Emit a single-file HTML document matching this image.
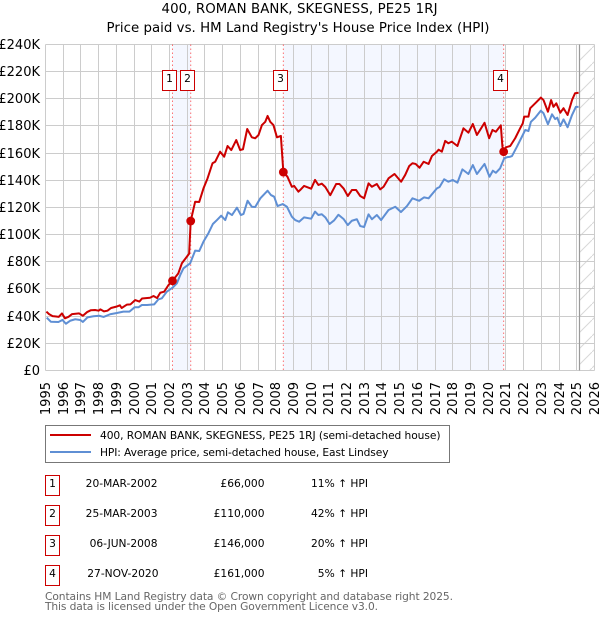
<!DOCTYPE html>
<html>
<head>
<meta charset="utf-8">
<title>400, Roman Bank price chart</title>
<style>
html,body{margin:0;padding:0;background:#fff;width:600px;height:620px;overflow:hidden}
svg{display:block}
text{font-family:"DejaVu Sans","Liberation Sans",sans-serif;fill:#000}
</style>
</head>
<body>
<svg id="chart" xmlns="http://www.w3.org/2000/svg" width="600" height="620" viewBox="0 0 600 620">
  <defs>
    <pattern id="hatch" patternUnits="userSpaceOnUse" width="16" height="16">
      <path d="M0 16L16 0" stroke="#d8d8d8" stroke-width="1" fill="none"/>
    </pattern>
  </defs>
  <text x="161.5" y="13" font-size="13.33" textLength="276" lengthAdjust="spacing">400, ROMAN BANK, SKEGNESS, PE25 1RJ</text>
  <text x="106.5" y="32" font-size="13.33" textLength="383" lengthAdjust="spacing">Price paid vs. HM Land Registry's House Price Index (HPI)</text>
  <g id="plot"></g>

  <g>
    <rect x="45.5" y="425.5" width="404" height="37" fill="#fff" stroke="#777"/>
    <line x1="50" x2="91" y1="435" y2="435" stroke="#c00" stroke-width="2"/>
    <text x="100" y="439" font-size="10.67" textLength="340.5" lengthAdjust="spacing">400, ROMAN BANK, SKEGNESS, PE25 1RJ (semi-detached house)</text>
    <line x1="50" x2="91" y1="452" y2="452" stroke="#5f8fd4" stroke-width="2"/>
    <text x="100" y="456" font-size="10.67" textLength="288.5" lengthAdjust="spacing">HPI: Average price, semi-detached house, East Lindsey</text>
  </g>

  <g>
    <g>
      <rect x="45.5" y="475.5" width="14" height="20" fill="#fff" stroke="#c00"/>
      <text x="52.5" y="487" font-size="10.67" text-anchor="middle">1</text>
      <text x="157.5" y="487" font-size="10.67" text-anchor="end">20-MAR-2002</text>
      <text x="264.5" y="487" font-size="10.67" text-anchor="end">£66,000</text>
      <text x="368" y="487" font-size="10.67" text-anchor="end">11% ↑ HPI</text>
    </g>
    <g>
      <rect x="45.5" y="505.5" width="14" height="20" fill="#fff" stroke="#c00"/>
      <text x="52.5" y="517" font-size="10.67" text-anchor="middle">2</text>
      <text x="157.5" y="517" font-size="10.67" text-anchor="end">25-MAR-2003</text>
      <text x="264.5" y="517" font-size="10.67" text-anchor="end">£110,000</text>
      <text x="368" y="517" font-size="10.67" text-anchor="end">42% ↑ HPI</text>
    </g>
    <g>
      <rect x="45.5" y="535.5" width="14" height="20" fill="#fff" stroke="#c00"/>
      <text x="52.5" y="547" font-size="10.67" text-anchor="middle">3</text>
      <text x="157.5" y="547" font-size="10.67" text-anchor="end">06-JUN-2008</text>
      <text x="264.5" y="547" font-size="10.67" text-anchor="end">£146,000</text>
      <text x="368" y="547" font-size="10.67" text-anchor="end">20% ↑ HPI</text>
    </g>
    <g>
      <rect x="45.5" y="565.5" width="14" height="20" fill="#fff" stroke="#c00"/>
      <text x="52.5" y="577" font-size="10.67" text-anchor="middle">4</text>
      <text x="158.5" y="577" font-size="10.67" text-anchor="end">27-NOV-2020</text>
      <text x="264.5" y="577" font-size="10.67" text-anchor="end">£161,000</text>
      <text x="368" y="577" font-size="10.67" text-anchor="end">5% ↑ HPI</text>
    </g>
  </g>

  <g>
    <text x="45" y="600" font-size="10.67" textLength="408" lengthAdjust="spacing" style="fill:#666">Contains HM Land Registry data © Crown copyright and database right 2025.</text>
    <text x="45" y="610" font-size="10.67" textLength="333" lengthAdjust="spacing" style="fill:#666">This data is licensed under the Open Government Licence v3.0.</text>
  </g>
</svg>
<script>
const yearTicks = [1995,1996,1997,1998,1999,2000,2001,2002,2003,2004,2005,2006,2007,2008,2009,2010,2011,2012,2013,2014,2015,2016,2017,2018,2019,2020,2021,2022,2023,2024,2025,2026];
const valueTicks = [0,20,40,60,80,100,120,140,160,180,200,220,240];
const valueTickLabels = ["£0","£20K","£40K","£60K","£80K","£100K","£120K","£140K","£160K","£180K","£200K","£220K","£240K"];

const priceDates = [1995.05,1995.2,1995.4,1995.6,1995.75,1995.93,1996.1,1996.3,1996.5,1996.9,1997.11,1997.35,1997.55,1997.8,1998,1998.1,1998.3,1998.5,1998.7,1999,1999.2,1999.3,1999.6,1999.8,2000.06,2000.3,2000.45,2000.9,2001.1,2001.3,2001.48,2001.7,2001.95,2002.17,2002.5,2002.7,2002.98,2003.11,2003.2,2003.45,2003.68,2003.92,2004.15,2004.43,2004.58,2004.86,2005.09,2005.28,2005.49,2005.77,2005.99,2006.15,2006.39,2006.65,2006.84,2007.03,2007.22,2007.41,2007.54,2007.69,2007.87,2008.07,2008.29,2008.43,2008.66,2008.91,2009.04,2009.28,2009.38,2009.6,2010,2010.22,2010.41,2010.6,2010.8,2011.08,2011.41,2011.6,2011.83,2012.07,2012.3,2012.54,2012.77,2012.99,2013.24,2013.43,2013.71,2013.9,2014.09,2014.37,2014.71,2015.08,2015.31,2015.54,2015.72,2015.9,2016.12,2016.35,2016.63,2016.82,2017.1,2017.2,2017.38,2017.57,2017.75,2017.94,2018.26,2018.6,2018.88,2019.13,2019.36,2019.54,2019.79,2020.05,2020.24,2020.43,2020.71,2020.8,2020.87,2020.99,2021.24,2021.52,2021.8,2021.95,2022.03,2022.27,2022.37,2022.65,2022.97,2023.12,2023.37,2023.55,2023.68,2023.84,2024.07,2024.25,2024.48,2024.73,2024.9,2025.1];
const priceValues = [43.3,41.5,40,39.7,39.5,42,38.4,39.5,41.5,42,40.3,43,44.3,44.5,44,45,43.5,44,46,47,48,46,48.5,48.7,51.8,50.7,53,53.5,54.8,53.3,57.2,58,63,66,71.5,78.9,83.7,86,110,124.2,124,134,141.4,152.5,153.6,161,157.3,165.2,162.2,169.6,162.2,162.8,177.7,171.6,170.9,173.3,180.6,183,187.3,183,180.6,171.6,172.6,146,142.6,135.2,135.8,131.6,132.8,135.8,133.8,140.2,136.5,137.5,135,129,137.2,137.2,134,128.4,132.8,132.8,128.4,126.7,137.7,135.2,137.2,133.3,135.2,141.4,144.6,138.9,143.9,150.5,152.5,152,149.2,153.6,152,157.8,161,162.5,161,168.9,167.2,168.4,165.2,178.2,175,181.4,173.3,177,182.3,170.9,177,175.7,180.4,164.7,161,164.2,165.2,170.9,178.2,181.9,186.8,186.8,193,196.6,200.8,199,190.4,199,194,196.6,189.7,193,188,199,204,204.4];

const hpiDates = [1995.07,1995.3,1995.73,1995.96,1996.15,1996.39,1996.68,1996.96,1997.11,1997.37,1997.71,1998.03,1998.28,1998.65,1999.03,1999.4,1999.74,2000.03,2000.25,2000.44,2000.73,2001.14,2001.38,2001.57,2001.85,2002.17,2002.42,2002.61,2002.79,2003.17,2003.45,2003.68,2003.92,2004.2,2004.45,2004.68,2004.92,2005.15,2005.3,2005.53,2005.81,2006.03,2006.18,2006.41,2006.65,2006.84,2007.13,2007.54,2007.73,2007.91,2008.1,2008.4,2008.63,2008.91,2009.1,2009.32,2009.6,2010,2010.22,2010.41,2010.6,2010.8,2011.04,2011.3,2011.54,2011.83,2012.07,2012.3,2012.58,2012.77,2012.99,2013.24,2013.43,2013.71,2013.95,2014.37,2014.75,2015.07,2015.41,2015.72,2016.1,2016.38,2016.63,2017.1,2017.25,2017.51,2017.75,2018,2018.26,2018.54,2018.88,2019.13,2019.36,2019.79,2020.07,2020.26,2020.43,2020.67,2020.9,2021.05,2021.24,2021.34,2021.62,2021.9,2022.09,2022.27,2022.41,2022.65,2022.97,2023.12,2023.37,2023.6,2023.78,2023.9,2024.07,2024.25,2024.48,2024.73,2024.95,2025.1];
const hpiValues = [38.9,35.9,35.7,37.2,34.4,36.6,37.7,37.2,35.7,39.1,39.9,40.3,39.4,41.4,42.3,43.3,43.3,46.5,46.5,48.2,48.2,48.7,52.4,53.1,58,60.9,64.2,70.3,75.2,78.9,88.2,87.9,94.8,101,107.8,110.7,113.9,110.7,116.4,114.4,119.8,114.4,115.2,124.9,120.5,120.3,126.7,132.3,129.1,127.9,121,122.5,120.5,113.2,110.7,109.5,112.7,111.7,116.9,114.4,115,112.7,107.8,110.5,114.6,111.5,107,110.2,111.3,106.3,105.6,114.9,111.3,114.4,110.7,118.1,120.5,116.6,121,126.7,124.9,127.4,126.7,134,135,140.7,138.9,140.2,138.2,148,144.6,151.2,144.6,152,142.6,147,145.5,148.8,156.1,156.9,157.3,157.8,164.7,172,177,176.2,183,186,191.2,189.3,181.2,188.5,185,186,179.9,184.8,179,188,194,194];

const saleDates = [2002.17,2003.2,2008.43,2020.87];
const saleValues = [66,110,146,161];
const saleLabels = ["1","2","3","4"];
const dataEndDate = 2025.15;

const NS = "http://www.w3.org/2000/svg";
const plot = document.getElementById("plot");
const xAxis = function (year) { return 45.5 + (year - 1995) * 17.71; };
const yAxis = function (value) { return 370.5 - value * 1.359; };
const crisp = function (p) { return Math.floor(p) + 0.5; };
const plotLeft = crisp(xAxis(1995));
const plotRight = crisp(xAxis(2026));
const plotTop = crisp(yAxis(240));
const plotBottom = crisp(yAxis(0));

function make(tag, attrs, parent) {
  const el = document.createElementNS(NS, tag);
  Object.keys(attrs).forEach(function (k) { el.setAttribute(k, attrs[k]); });
  (parent || plot).appendChild(el);
  return el;
}

// shaded bands between alternating sales
[[0, 1], [2, 3]].forEach(function (pair) {
  const band = make("rect", {
    x: xAxis(saleDates[pair[0]]), y: plotTop,
    width: xAxis(saleDates[pair[1]]) - xAxis(saleDates[pair[0]]),
    height: plotBottom - plotTop, fill: "#f4f7ff"
  });
  
  
});

// no-data hatch area
const hatchArea = make("rect", {
  x: xAxis(dataEndDate), y: plotTop,
  width: plotRight - xAxis(dataEndDate), height: plotBottom - plotTop, fill: "url(#hatch)"
});



// vertical grid + x tick labels
yearTicks.forEach(function (yr) {
  const gx = crisp(xAxis(yr));
  const line = make("line", { x1: gx, x2: gx, y1: plotTop, y2: plotBottom, stroke: "#ccc", "stroke-width": 1 });
  
  
  const label = make("text", {
    x: 0, y: 0, "font-size": 13, "text-anchor": "end",
    transform: "translate(" + (gx + 4.7) + ",382) rotate(-90)"
  });
  label.textContent = String(yr);
  
  
});

// horizontal grid + y tick labels
valueTicks.forEach(function (v, i) {
  const gy = crisp(yAxis(v));
  const line = make("line", { x1: plotLeft, x2: plotRight, y1: gy, y2: gy, stroke: "#ccc", "stroke-width": 1 });
  
  
  const label = make("text", { x: 40, y: gy + 4.5, "font-size": 13, "text-anchor": "end" });
  label.textContent = valueTickLabels[i];
  
  
});

// end of data marker
const endLine = make("line", {
  x1: crisp(xAxis(dataEndDate)), x2: crisp(xAxis(dataEndDate)), y1: plotTop, y2: plotBottom,
  stroke: "#999", "stroke-width": 1.2
});



// sale dotted lines
saleDates.forEach(function (d) {
  const line = make("line", {
    x1: xAxis(d), x2: xAxis(d), y1: plotTop, y2: plotBottom,
    stroke: "#f00", "stroke-opacity": 0.55, "stroke-width": 1, "stroke-dasharray": "1.5 2.5"
  });
  
  
});

function seriesPath(dates, values) {
  return dates.map(function (d, i) {
    return (i ? "L" : "M") + xAxis(d).toFixed(2) + " " + yAxis(values[i]).toFixed(2);
  }).join("");
}

const hpiLine = make("path", {
  d: seriesPath(hpiDates, hpiValues), fill: "none", stroke: "#5f8fd4",
  "stroke-width": 2, "stroke-linejoin": "round"
});



const priceLine = make("path", {
  d: seriesPath(priceDates, priceValues), fill: "none", stroke: "#c00",
  "stroke-width": 2, "stroke-linejoin": "round"
});



// sale markers
saleDates.forEach(function (d, i) {
  const marker = make("circle", { cx: xAxis(d), cy: yAxis(saleValues[i]), r: 4.4, fill: "#c00" });
  
  
});

// numbered boxes above the lines
saleDates.forEach(function (d, i) {
  const cx = Math.floor(xAxis(d) - 3) + 0.5;
  const box = make("rect", { x: cx - 7, y: 70.5, width: 14, height: 20, fill: "#fff", stroke: "#c00" });
  
  
  const num = make("text", { x: cx, y: 82, "font-size": 10.67, "text-anchor": "middle" });
  num.textContent = saleLabels[i];
  
  
});
</script>
</body>
</html>
